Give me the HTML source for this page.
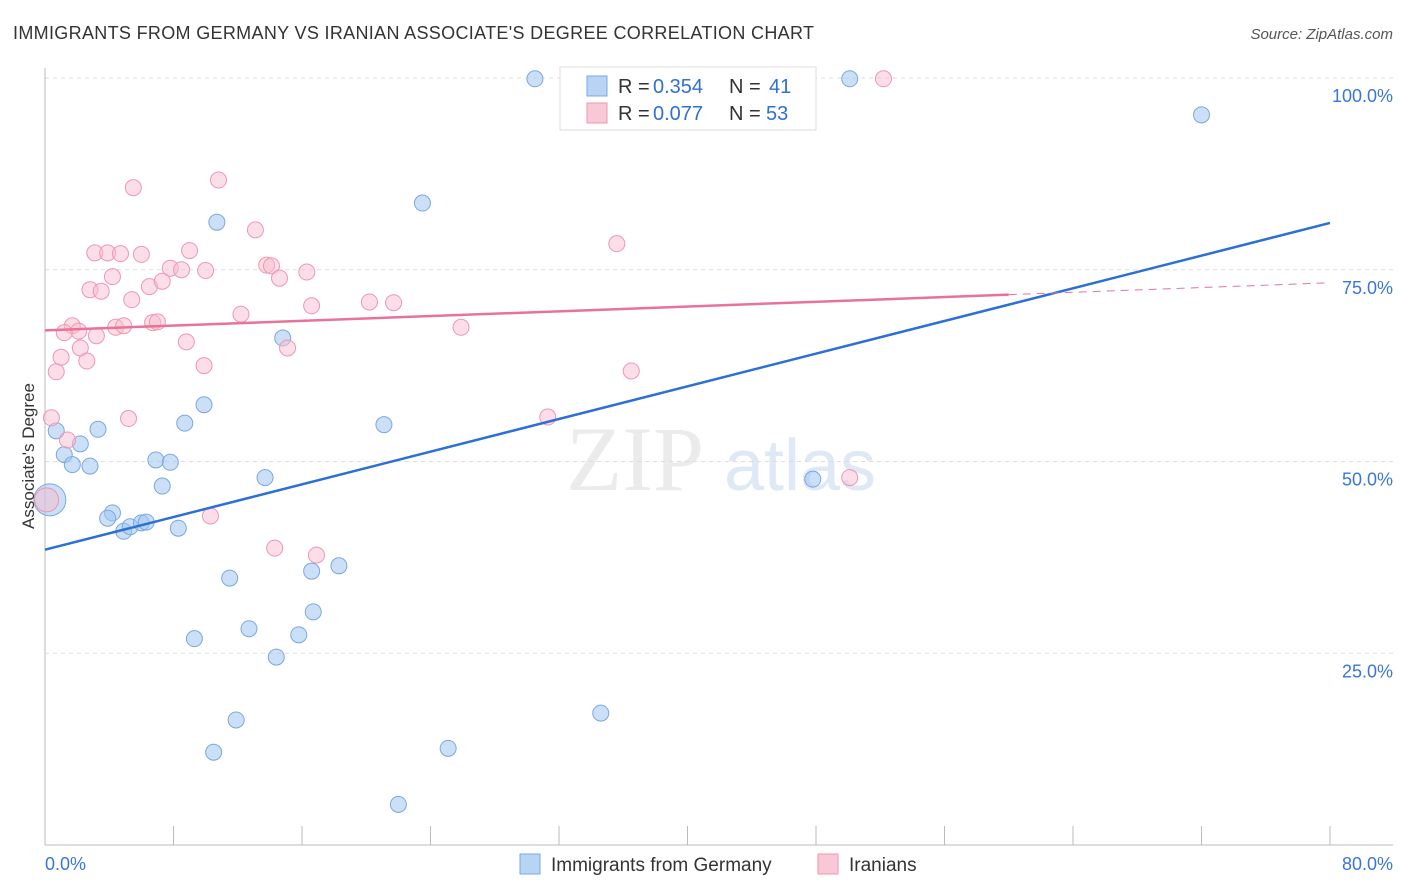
<!DOCTYPE html>
<html><head><meta charset="utf-8"><style>
body{margin:0;background:#fff;font-family:"Liberation Sans",sans-serif;}
svg{display:block}
</style></head><body>
<svg id="c" width="1406" height="892">
<text x="13" y="39" font-size="18" fill="#333" textLength="801">IMMIGRANTS FROM GERMANY VS IRANIAN ASSOCIATE'S DEGREE CORRELATION CHART</text>
<text x="1393" y="39" font-size="15" fill="#555" font-style="italic" text-anchor="end">Source: ZipAtlas.com</text>
<text x="635" y="490" font-size="92" fill="#ebebeb" font-family="Liberation Serif,serif" text-anchor="middle">ZIP</text>
<text x="800" y="490" font-size="72" fill="#dfe9f6" text-anchor="middle">atlas</text>
<g id="grid"></g><g id="pts"></g><g id="lines"></g>
<text transform="translate(34,456) rotate(-90)" font-size="17" fill="#333" text-anchor="middle">Associate's Degree</text>
<g>
<rect x="560" y="67" width="256" height="63" fill="#fff" stroke="#ddd"/>
<rect x="587" y="76" width="20" height="20" fill="#b8d4f5" stroke="#7aa8e0"/>
<rect x="587" y="103" width="20" height="20" fill="#f9c8d6" stroke="#ee97b0"/>
<text x="618" y="93" font-size="20" fill="#333">R =</text><text x="653" y="93" font-size="20" fill="#2f6fd6">0.354</text>
<text x="729" y="93" font-size="20" fill="#333">N =</text><text x="769" y="93" font-size="20" fill="#2f6fd6">41</text>
<text x="618" y="120" font-size="20" fill="#333">R =</text><text x="653" y="120" font-size="20" fill="#2f6fd6">0.077</text>
<text x="729" y="120" font-size="20" fill="#333">N =</text><text x="766" y="120" font-size="20" fill="#2f6fd6">53</text>
</g>
<g>
<rect x="520" y="854" width="20" height="20" fill="#b8d4f5" stroke="#7aa8e0"/>
<text x="551" y="871" font-size="19" fill="#333">Immigrants from Germany</text>
<rect x="818" y="854" width="20" height="20" fill="#f9c8d6" stroke="#ee97b0"/>
<text x="849" y="871" font-size="19" fill="#333">Iranians</text>
</g>
</svg>
<script>
const blueX=[30.5,50.1,72.0,23.5,10.7,14.8,9.9,3.3,0.7,8.7,21.1,2.2,1.2,1.7,2.8,6.9,7.8,7.3,13.7,47.8,0.3,4.2,3.9,4.9,5.3,6.0,6.3,8.3,11.5,16.6,18.3,16.7,9.3,12.7,15.8,14.4,11.9,34.6,10.5,25.1,22.0];
const blueY=[99.9,99.9,95.2,83.7,81.2,66.1,57.4,54.2,54.0,55.0,54.8,52.3,50.9,49.6,49.4,50.2,49.9,46.8,47.9,47.7,45.0,43.3,42.6,40.9,41.5,42.0,42.1,41.3,34.8,35.7,36.4,30.4,26.9,28.2,27.4,24.5,16.3,17.2,12.1,12.6,5.3];
const pinkX=[52.2,5.5,10.8,35.6,13.1,3.1,3.9,4.7,6.0,9.0,4.2,7.8,8.5,10.0,13.8,14.1,14.6,16.3,2.8,3.5,5.4,6.5,7.3,16.6,20.2,21.7,12.2,1.7,2.1,1.2,3.2,4.4,4.9,6.7,7.0,25.9,8.8,15.1,2.2,1.0,2.6,9.9,0.7,36.5,0.4,5.2,31.3,1.4,50.1,0.1,10.3,14.3,16.9];
const pinkY=[99.9,85.7,86.7,78.4,80.2,77.2,77.2,77.1,77.0,77.5,74.1,75.2,75.0,74.9,75.6,75.5,73.9,74.7,72.4,72.2,71.1,72.8,73.5,70.3,70.8,70.7,69.2,67.7,67.0,66.8,66.4,67.5,67.7,68.1,68.2,67.5,65.6,64.8,64.8,63.6,63.1,62.5,61.7,61.8,55.7,55.6,55.8,52.8,47.9,45.0,42.9,38.7,37.8];
const yTicks=[25,50,75,100];
const blueTrend=[38.5,81.1];
const pinkTrend=[67.1,73.3];
const xs=v=>45+v/80*1285, ys=v=>845-v*7.67;
const NS="http://www.w3.org/2000/svg";
function mk(t,a,p){const e=document.createElementNS(NS,t);for(const k in a)e.setAttribute(k,a[k]);p.appendChild(e);return e;}
const g=document.getElementById('grid');
mk('line',{x1:45,y1:ys(100),x2:1393,y2:ys(100),stroke:'#ddd','stroke-dasharray':'4,4'},g);
yTicks.forEach(t=>{const l=mk('line',{x1:45,y1:ys(t),x2:1393,y2:ys(t),stroke:'#ddd','stroke-dasharray':'4,4'},g);


const tx=mk('text',{x:1393,y:ys(t)+24,'font-size':18,fill:'#3a76d8','text-anchor':'end'},g);tx.textContent=t.toFixed(1)+'%';

});
mk('line',{x1:45,y1:68,x2:45,y2:845,stroke:'#bbb'},g);
mk('line',{x1:45,y1:845,x2:1393,y2:845,stroke:'#bbb'},g);
for(let i=0;i<=10;i++){mk('line',{x1:xs(i*8),y1:826,x2:xs(i*8),y2:845,stroke:'#bbb'},g);}
let t1=mk('text',{x:45,y:870,'font-size':18,fill:'#3a76d8'},g);t1.textContent='0.0%';


let t2=mk('text',{x:1393,y:870,'font-size':18,fill:'#3a76d8','text-anchor':'end'},g);t2.textContent='80.0%';


const p=document.getElementById('pts');
blueX.forEach((x,i)=>{const c=mk('circle',{cx:xs(x),cy:ys(blueY[i]),r:i==20?16:8,fill:'rgba(160,196,240,0.55)',stroke:'#7aa8e0','stroke-width':1},p);

});
pinkX.forEach((x,i)=>{const c=mk('circle',{cx:xs(x),cy:ys(pinkY[i]),r:i==49?12:8,fill:'rgba(248,190,208,0.5)',stroke:'#ee97b0','stroke-width':1},p);

});
const L=document.getElementById('lines');
const bl=mk('line',{x1:xs(0),y1:ys(blueTrend[0]),x2:xs(80),y2:ys(blueTrend[1]),stroke:'#2c6fd6','stroke-width':2.5},L);


const pm=v=>pinkTrend[0]+(pinkTrend[1]-pinkTrend[0])*v/80;
const pl=mk('line',{x1:xs(0),y1:ys(pm(0)),x2:xs(60),y2:ys(pm(60)),stroke:'#e8729a','stroke-width':2.5},L);


const pd=mk('line',{x1:xs(60),y1:ys(pm(60)),x2:xs(80),y2:ys(pm(80)),stroke:'#e8729a','stroke-width':1,'stroke-dasharray':'8,6'},L);


</script>
</body></html>
